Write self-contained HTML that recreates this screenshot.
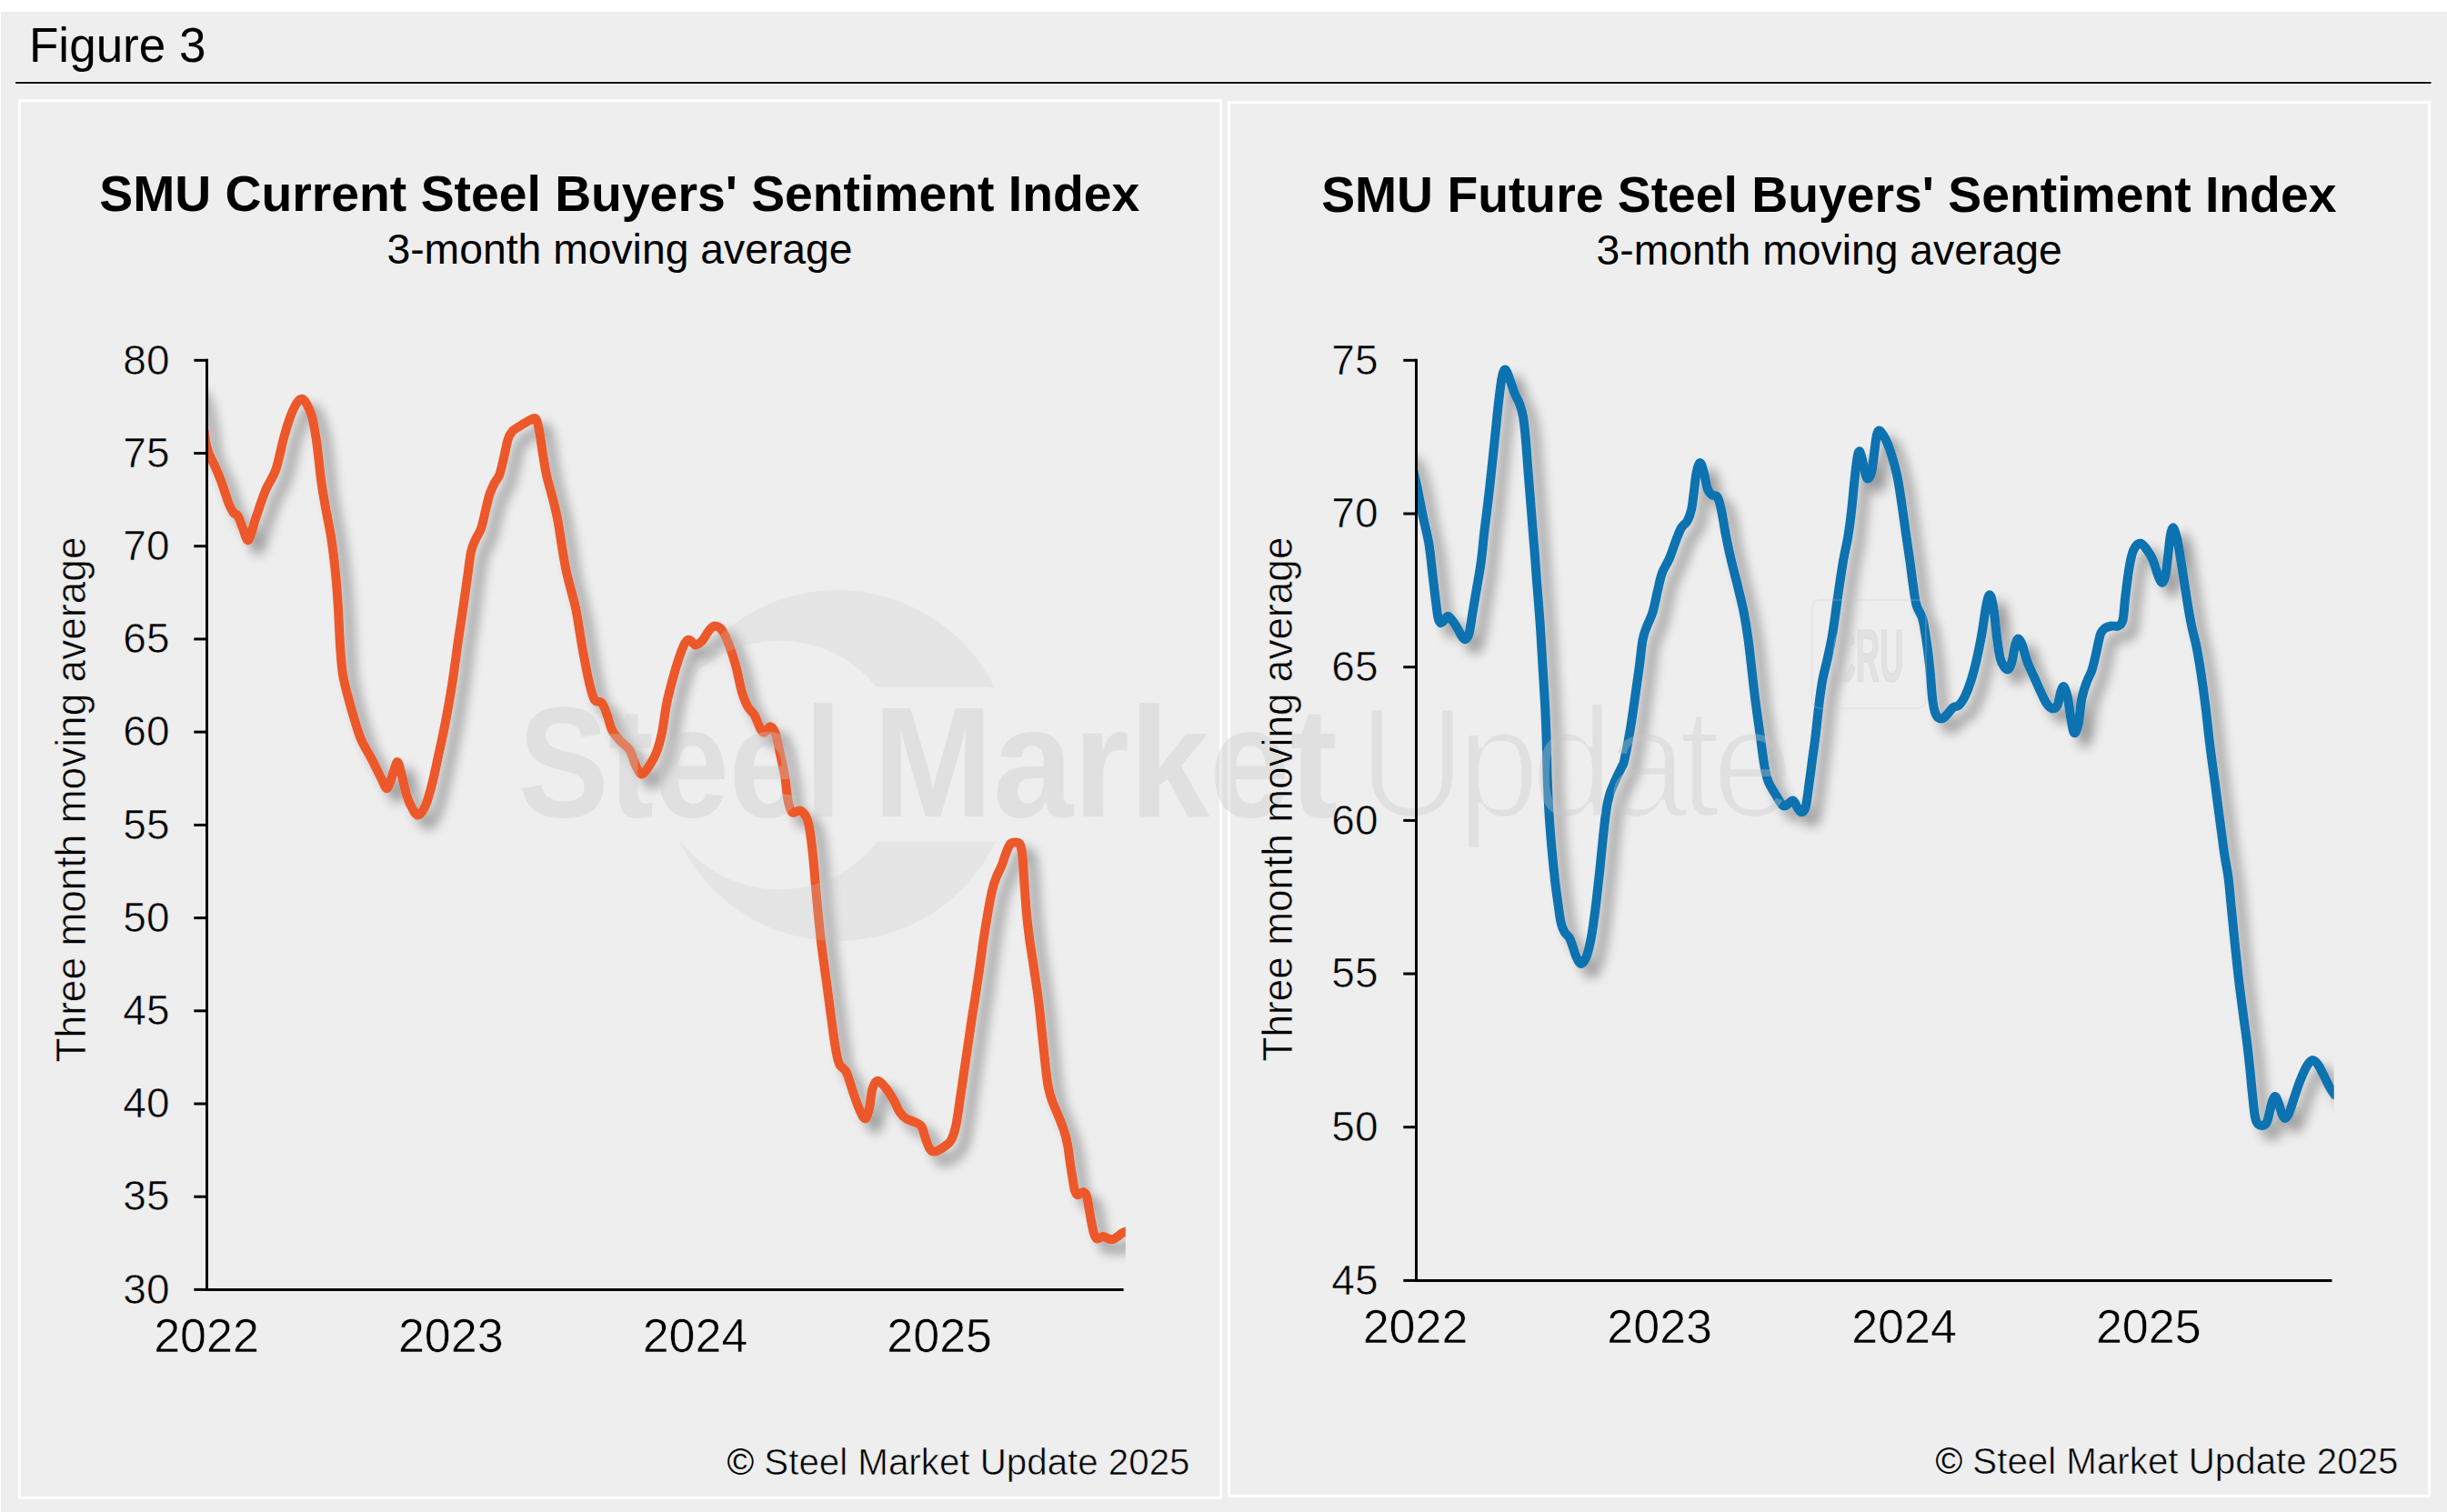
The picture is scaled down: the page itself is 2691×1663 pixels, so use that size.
<!DOCTYPE html>
<html lang="en"><head><meta charset="utf-8"><title>Figure 3 - SMU Steel Buyers' Sentiment Index</title>
<style>html,body{margin:0;padding:0;background:#fff}body{width:2691px;height:1663px;overflow:hidden}svg{display:block}
text{font-family:"Liberation Sans", sans-serif;fill:#000}
.b{font-weight:bold}.thin{stroke:#eeeeee;stroke-width:0.6px}
</style></head><body>
<svg width="2691" height="1663" viewBox="0 0 2691 1663">
<defs>
<filter id="sh" x="-5%" y="-5%" width="110%" height="110%"><feGaussianBlur in="SourceAlpha" stdDeviation="6.5"/><feOffset dx="11" dy="11" result="o"/><feComponentTransfer><feFuncA type="linear" slope="0.37"/></feComponentTransfer><feMerge><feMergeNode/><feMergeNode in="SourceGraphic"/></feMerge></filter>
<clipPath id="cl"><rect x="229.0" y="380" width="1008.8" height="1060"/></clipPath>
<clipPath id="cr"><rect x="1559.0" y="380" width="1007.7" height="1060"/></clipPath>
<filter id="er" x="-2%" y="-10%" width="104%" height="130%"><feMorphology operator="erode" radius="2"/></filter>
</defs>
<rect x="0" y="0" width="2691" height="1663" fill="#fff"/>
<rect x="1" y="13" width="2690" height="1650" fill="#eeeeee"/>
<text x="32" y="68" font-size="53">Figure 3</text>
<rect x="16" y="89" width="2658.5" height="4" rx="1" fill="#fff"/>
<rect x="17" y="90" width="2656.5" height="2" fill="#000"/>
<rect x="21.5" y="110.7" width="1321" height="1536.8" fill="none" stroke="#fff" stroke-width="3"/>
<rect x="1351.6" y="112.8" width="1320" height="1532.6" fill="none" stroke="#fff" stroke-width="3"/>
<g clip-path="url(#cl)"><path d="M204.0 432.0C205.3 430.7 209.3 421.7 212.0 424.0C214.7 426.3 217.4 434.8 220.0 446.0C222.6 457.2 224.8 480.7 227.4 491.5C230.0 502.3 232.9 504.6 235.6 511.0C238.3 517.4 240.9 522.9 243.5 530.0C246.1 537.1 249.2 547.9 251.4 553.5C253.6 559.1 254.8 561.1 256.5 563.5C258.2 565.9 259.9 564.6 261.7 567.6C263.5 570.6 265.3 577.1 267.2 581.5C269.1 585.9 271.0 595.9 273.3 594.0C275.6 592.1 278.0 579.6 281.1 570.4C284.2 561.2 288.5 547.8 292.2 538.9C295.9 530.0 299.9 526.6 303.3 516.7C306.7 506.8 309.5 490.4 312.6 479.6C315.7 468.8 318.7 458.7 321.9 451.9C325.1 445.1 328.6 438.1 332.0 438.7C335.4 439.3 339.6 448.2 342.2 455.6C344.8 463.0 345.9 471.0 347.8 483.3C349.7 495.6 351.5 516.3 353.3 529.6C355.1 542.9 357.0 552.5 358.9 563.0C360.8 573.5 362.7 581.2 364.4 592.6C366.1 604.0 367.9 618.9 369.1 631.5C370.4 644.1 371.0 654.7 371.9 668.5C372.8 682.3 373.4 701.9 374.3 714.1C375.2 726.3 375.6 733.3 377.0 741.9C378.4 750.5 380.4 757.6 382.6 765.9C384.8 774.2 387.5 783.9 390.0 791.9C392.5 799.9 394.3 807.0 397.4 814.1C400.5 821.2 404.8 827.3 408.5 834.4C412.2 841.5 416.7 851.3 419.6 856.7C422.5 862.1 423.9 868.1 426.1 866.9C428.3 865.7 430.8 854.1 432.6 849.3C434.5 844.5 435.6 837.5 437.2 838.1C438.8 838.7 440.2 846.8 441.9 853.0C443.6 859.2 445.4 869.0 447.4 875.2C449.4 881.4 451.8 886.5 453.9 890.0C456.0 893.5 457.7 897.1 460.0 896.5C462.3 895.9 465.3 892.0 467.8 886.3C470.3 880.6 472.7 871.8 475.2 862.2C477.7 852.6 480.1 840.3 482.6 828.9C485.1 817.5 487.5 806.7 490.0 793.7C492.5 780.7 495.1 765.9 497.4 751.1C499.7 736.3 501.9 718.7 503.9 704.8C505.9 690.9 507.7 679.8 509.4 667.8C511.1 655.8 512.9 643.1 514.3 633.0C515.7 622.9 516.6 613.5 518.0 607.0C519.4 600.5 520.8 598.4 522.6 594.1C524.5 589.8 527.2 586.4 529.1 581.1C531.0 575.9 532.2 568.8 533.7 562.6C535.2 556.4 536.6 549.4 538.3 544.1C540.0 538.9 542.0 534.8 543.9 531.1C545.8 527.4 547.7 526.5 549.4 521.9C551.1 517.3 552.5 509.8 554.1 503.3C555.7 496.8 557.2 487.8 558.7 483.0C560.2 478.2 561.0 477.1 563.3 474.6C565.6 472.1 569.5 470.1 572.6 468.1C575.7 466.1 579.1 463.8 581.9 462.6C584.7 461.4 587.4 458.5 589.3 460.7C591.2 462.9 592.1 469.4 593.3 475.6C594.5 481.8 595.4 489.8 596.7 497.8C598.0 505.8 599.4 515.4 601.3 523.7C603.1 532.0 605.8 539.8 607.8 547.8C609.8 555.8 611.6 562.9 613.3 571.9C615.0 580.9 616.5 592.2 618.0 601.5C619.5 610.8 620.9 619.4 622.6 627.4C624.3 635.4 626.2 642.2 628.1 649.6C630.0 657.0 631.6 661.1 633.7 671.9C635.8 682.6 638.3 700.9 640.7 714.1C643.1 727.3 645.9 741.9 648.1 751.1C650.3 760.4 651.4 765.9 653.7 769.6C656.0 773.3 659.7 770.5 662.0 773.3C664.3 776.1 665.8 781.3 667.6 786.3C669.5 791.2 670.8 798.4 673.1 803.0C675.4 807.6 678.2 810.4 681.5 814.1C684.8 817.8 689.7 820.6 692.6 825.2C695.5 829.8 696.9 837.5 699.1 841.9C701.3 846.3 703.3 851.2 705.6 851.5C707.9 851.8 710.4 847.5 713.0 843.7C715.6 839.9 718.8 835.1 721.3 828.9C723.8 822.7 725.8 816.0 727.8 806.7C729.8 797.4 731.1 783.8 733.3 773.3C735.4 762.8 738.2 752.7 740.7 743.7C743.2 734.8 745.9 725.8 748.1 719.6C750.3 713.4 752.0 709.3 753.7 706.7C755.4 704.1 756.4 703.5 758.3 703.9C760.1 704.3 762.5 709.2 764.8 709.4C767.1 709.5 769.7 707.4 772.2 704.8C774.7 702.2 777.3 696.4 779.6 693.7C781.9 691.0 783.6 688.5 786.1 688.5C788.6 688.5 791.6 689.8 794.4 693.7C797.2 697.7 800.3 705.7 802.8 712.2C805.3 718.7 807.1 724.6 809.3 732.6C811.4 740.6 813.6 753.0 815.7 760.4C817.9 767.8 819.9 772.7 822.2 777.0C824.5 781.3 827.3 782.3 829.6 786.3C831.9 790.3 834.2 797.9 836.1 801.1C838.0 804.3 838.9 806.0 840.7 805.7C842.6 805.4 845.2 799.1 847.2 799.3C849.2 799.5 850.9 801.5 852.8 806.7C854.6 811.9 856.6 823.0 858.3 830.7C860.0 838.4 861.6 844.7 863.0 853.0C864.4 861.3 865.3 873.9 866.7 880.7C868.1 887.5 869.1 891.9 871.3 893.7C873.5 895.5 877.1 890.5 879.8 891.5C882.4 892.5 885.4 895.8 887.2 899.8C889.1 903.8 889.7 907.7 890.9 915.6C892.1 923.5 893.4 934.7 894.6 947.0C895.8 959.3 896.9 974.8 898.3 989.6C899.7 1004.4 901.2 1020.5 903.0 1035.9C904.8 1051.3 907.0 1065.8 909.2 1082.2C911.4 1098.6 914.3 1121.4 916.1 1134.1C917.9 1146.8 918.6 1151.9 919.8 1158.1C921.0 1164.3 921.6 1167.5 923.5 1171.1C925.4 1174.6 928.6 1174.8 930.9 1179.4C933.2 1184.0 935.1 1192.2 937.4 1198.9C939.7 1205.6 942.5 1214.0 944.8 1219.3C947.1 1224.5 949.4 1230.4 951.3 1230.4C953.1 1230.4 954.5 1224.9 955.9 1219.3C957.3 1213.7 958.0 1202.1 959.6 1197.0C961.2 1191.9 962.7 1188.7 965.2 1188.7C967.7 1188.7 971.5 1193.5 974.4 1197.0C977.3 1200.5 980.3 1205.7 982.8 1210.0C985.3 1214.3 987.0 1219.6 989.3 1223.0C991.6 1226.4 993.9 1228.6 996.7 1230.4C999.5 1232.2 1003.1 1232.7 1005.9 1234.1C1008.7 1235.5 1011.3 1235.6 1013.3 1238.7C1015.3 1241.8 1016.5 1248.4 1018.0 1252.6C1019.5 1256.8 1020.9 1261.4 1022.6 1263.7C1024.3 1266.0 1025.6 1266.8 1028.1 1266.5C1030.6 1266.2 1034.5 1263.9 1037.4 1261.9C1040.3 1259.9 1043.4 1258.4 1045.7 1254.4C1048.0 1250.4 1049.6 1245.5 1051.3 1237.8C1053.0 1230.1 1054.1 1220.4 1055.9 1208.1C1057.8 1195.8 1060.2 1178.5 1062.4 1163.7C1064.6 1148.9 1067.3 1129.9 1068.9 1119.3C1070.5 1108.7 1070.6 1109.0 1072.0 1100.0C1073.4 1091.0 1075.6 1076.6 1077.2 1065.3C1078.8 1054.0 1080.2 1042.6 1081.8 1032.3C1083.3 1021.9 1085.0 1012.0 1086.5 1003.2C1088.0 994.4 1089.6 985.8 1091.1 979.4C1092.6 973.0 1093.9 969.4 1095.7 964.8C1097.5 960.2 1099.9 956.0 1101.7 951.6C1103.5 947.2 1104.8 942.3 1106.3 938.4C1107.8 934.5 1109.2 930.4 1110.9 928.4C1112.6 926.4 1114.4 926.5 1116.2 926.5C1118.0 926.5 1120.2 926.2 1121.5 928.4C1122.8 930.6 1123.4 933.4 1124.2 939.7C1125.0 946.0 1125.3 955.5 1126.1 966.1C1126.9 976.7 1127.8 992.2 1128.8 1003.2C1129.8 1014.2 1130.9 1023.0 1132.1 1032.3C1133.3 1041.5 1134.4 1047.4 1136.1 1058.7C1137.8 1070.0 1140.4 1087.4 1142.0 1100.0C1143.6 1112.6 1144.3 1121.0 1145.7 1134.1C1147.1 1147.2 1149.2 1168.2 1150.4 1178.5C1151.6 1188.8 1151.8 1190.6 1152.9 1195.9C1154.0 1201.2 1155.1 1205.3 1156.9 1210.4C1158.7 1215.5 1161.3 1220.8 1163.5 1226.3C1165.7 1231.8 1168.3 1238.0 1170.1 1243.5C1171.9 1249.0 1173.0 1253.7 1174.1 1259.4C1175.2 1265.1 1175.8 1272.0 1176.7 1277.9C1177.6 1283.9 1178.5 1289.8 1179.4 1295.1C1180.3 1300.4 1181.0 1306.4 1182.0 1309.6C1183.0 1312.8 1183.8 1314.1 1185.3 1314.3C1186.8 1314.5 1189.6 1310.7 1191.3 1311.0C1193.0 1311.3 1194.1 1312.9 1195.2 1316.2C1196.3 1319.5 1197.0 1325.9 1197.9 1330.8C1198.8 1335.7 1199.6 1341.0 1200.5 1345.4C1201.4 1349.8 1202.2 1354.4 1203.2 1357.2C1204.2 1360.0 1204.8 1362.0 1206.5 1362.5C1208.2 1363.0 1211.2 1360.0 1213.1 1359.9C1215.0 1359.8 1216.0 1361.4 1217.7 1361.9C1219.4 1362.5 1221.2 1363.4 1223.0 1363.2C1224.8 1363.0 1226.5 1361.7 1228.3 1360.6C1230.1 1359.5 1231.8 1357.7 1233.6 1356.6C1235.3 1355.5 1237.9 1354.6 1238.8 1354.2" fill="none" stroke="#ec5829" stroke-width="10" stroke-linejoin="round" stroke-linecap="round" filter="url(#sh)"/></g>
<g clip-path="url(#cr)"><path d="M1536.0 501.0C1537.3 500.3 1541.5 496.0 1544.0 497.0C1546.5 498.0 1548.8 501.4 1551.0 507.0C1553.2 512.6 1555.1 520.4 1557.4 530.5C1559.7 540.6 1562.5 556.6 1564.8 567.8C1567.1 578.9 1569.6 587.4 1571.3 597.4C1573.0 607.4 1573.8 617.5 1575.0 627.8C1576.2 638.1 1577.6 650.7 1578.7 659.3C1579.8 667.9 1580.6 675.3 1581.5 679.6C1582.4 683.9 1583.2 684.7 1584.3 685.2C1585.4 685.7 1586.6 683.6 1588.0 682.4C1589.4 681.2 1590.8 677.3 1592.6 677.8C1594.4 678.3 1597.1 682.4 1599.1 685.2C1601.1 688.0 1603.1 691.8 1604.6 694.4C1606.1 697.0 1607.1 699.5 1608.3 700.9C1609.5 702.3 1610.8 703.6 1612.0 702.8C1613.2 702.0 1614.5 701.1 1615.7 696.3C1616.9 691.5 1618.0 682.4 1619.4 674.1C1620.8 665.8 1622.5 655.6 1624.1 646.3C1625.6 637.0 1627.3 628.8 1628.7 618.5C1630.1 608.2 1630.9 597.8 1632.4 584.4C1634.0 571.0 1636.2 554.5 1638.0 538.1C1639.8 521.8 1641.8 502.3 1643.5 486.3C1645.2 470.3 1646.7 453.9 1648.1 441.9C1649.5 429.9 1650.6 420.0 1651.9 414.1C1653.2 408.2 1654.4 405.8 1655.9 406.7C1657.4 407.6 1659.5 415.3 1661.1 419.6C1662.7 423.9 1664.0 428.4 1665.7 432.6C1667.4 436.8 1669.8 440.3 1671.3 444.6C1672.8 448.9 1673.9 452.2 1675.0 458.5C1676.1 464.8 1676.9 472.4 1677.8 482.6C1678.7 492.8 1679.5 505.7 1680.6 519.6C1681.7 533.5 1683.1 550.5 1684.3 565.9C1685.5 581.3 1687.1 600.4 1688.0 612.2C1688.9 624.1 1688.9 625.1 1689.8 637.0C1690.7 648.9 1692.4 667.9 1693.5 683.3C1694.6 698.7 1695.4 714.2 1696.3 729.6C1697.2 745.0 1698.3 760.5 1699.1 775.9C1699.9 791.3 1700.5 808.7 1700.9 822.2C1701.3 835.7 1701.3 845.0 1701.7 857.0C1702.1 869.0 1702.7 881.8 1703.5 894.1C1704.3 906.5 1705.2 918.8 1706.3 931.1C1707.4 943.4 1708.8 957.3 1710.0 968.1C1711.2 978.9 1712.6 988.2 1713.7 995.9C1714.8 1003.6 1715.4 1009.6 1716.5 1014.4C1717.6 1019.2 1718.7 1021.8 1720.2 1024.6C1721.7 1027.4 1724.2 1028.5 1725.7 1031.1C1727.2 1033.7 1728.2 1037.0 1729.4 1040.4C1730.6 1043.8 1731.7 1048.3 1733.1 1051.5C1734.5 1054.7 1736.1 1059.2 1737.8 1059.8C1739.5 1060.4 1741.6 1058.4 1743.3 1055.2C1745.0 1052.0 1746.6 1046.3 1748.0 1040.4C1749.4 1034.5 1750.5 1028.0 1751.7 1020.0C1752.9 1012.0 1754.2 1002.4 1755.4 992.2C1756.6 982.0 1757.9 970.6 1759.1 958.9C1760.3 947.2 1761.6 933.3 1762.8 921.9C1764.0 910.5 1765.3 898.4 1766.5 890.4C1767.7 882.4 1768.7 878.8 1770.2 873.7C1771.7 868.6 1773.6 864.7 1775.7 859.8C1777.8 854.9 1781.4 847.9 1783.1 844.1C1784.8 840.3 1784.5 843.7 1786.1 837.0C1787.7 830.3 1790.6 815.4 1792.6 803.7C1794.6 792.0 1796.4 778.4 1798.1 766.7C1799.8 755.0 1801.4 743.8 1802.8 733.3C1804.2 722.8 1805.1 711.1 1806.5 703.7C1807.9 696.3 1809.2 694.0 1811.1 688.9C1812.9 683.8 1815.6 679.7 1817.6 673.0C1819.6 666.3 1821.4 656.0 1823.1 648.9C1824.8 641.8 1825.6 636.3 1827.8 630.4C1830.0 624.5 1833.5 619.9 1836.1 613.7C1838.7 607.5 1841.3 598.8 1843.5 593.3C1845.7 587.8 1847.1 583.8 1849.1 580.4C1851.1 577.0 1853.8 576.4 1855.6 573.0C1857.4 569.6 1859.0 565.6 1860.2 560.0C1861.4 554.4 1862.1 546.4 1863.0 539.6C1863.9 532.8 1864.6 524.4 1865.7 519.3C1866.8 514.2 1868.4 508.8 1869.8 509.1C1871.2 509.4 1872.8 516.3 1874.1 521.1C1875.4 525.9 1876.4 533.9 1877.8 537.8C1879.2 541.7 1880.6 542.8 1882.4 544.3C1884.2 545.8 1887.1 543.8 1888.9 547.0C1890.8 550.2 1892.0 556.6 1893.5 563.7C1895.0 570.8 1896.4 581.0 1898.1 589.6C1899.8 598.2 1901.5 606.3 1903.7 615.6C1905.9 624.9 1908.8 635.6 1911.1 645.2C1913.4 654.8 1915.8 663.8 1917.6 673.0C1919.4 682.2 1920.9 691.5 1922.2 700.7C1923.5 709.9 1924.2 716.9 1925.5 728.0C1926.8 739.1 1928.3 754.0 1930.0 767.4C1931.7 780.8 1933.9 795.8 1935.6 808.1C1937.3 820.5 1938.7 832.9 1940.2 841.5C1941.7 850.1 1942.8 854.8 1944.8 860.0C1946.8 865.2 1949.7 868.8 1952.2 873.0C1954.7 877.2 1957.6 882.9 1959.6 885.0C1961.6 887.1 1962.3 886.7 1964.3 885.9C1966.3 885.1 1969.7 880.1 1971.7 880.4C1973.7 880.7 1974.8 885.6 1976.3 887.8C1977.8 889.9 1979.4 893.3 1980.9 893.3C1982.5 893.3 1984.2 892.7 1985.6 887.8C1987.0 882.9 1988.1 872.4 1989.3 863.7C1990.5 855.1 1991.8 845.2 1993.0 835.9C1994.2 826.6 1995.5 818.3 1996.7 808.1C1997.9 797.9 1999.2 784.7 2000.4 774.8C2001.6 764.9 2002.6 757.2 2004.1 748.9C2005.6 740.6 2007.9 732.5 2009.6 724.8C2011.3 717.1 2012.9 710.3 2014.3 702.6C2015.7 694.9 2016.8 686.5 2018.0 678.5C2019.2 670.5 2019.8 664.6 2021.3 654.4C2022.8 644.2 2025.1 628.2 2026.9 617.4C2028.8 606.6 2030.9 598.9 2032.4 589.6C2033.9 580.4 2034.9 572.7 2036.1 561.9C2037.3 551.1 2038.7 534.7 2039.8 524.8C2040.9 514.9 2041.7 507.3 2042.6 502.6C2043.5 497.9 2044.2 495.3 2045.3 496.7C2046.4 498.1 2048.1 506.6 2049.2 511.0C2050.3 515.4 2051.0 520.4 2051.9 523.0C2052.8 525.6 2053.4 527.1 2054.5 526.4C2055.6 525.6 2057.2 523.8 2058.4 518.5C2059.6 513.2 2060.7 501.2 2061.6 494.5C2062.5 487.8 2063.0 482.0 2063.9 478.5C2064.8 475.0 2065.6 473.0 2067.2 473.6C2068.8 474.2 2071.2 478.5 2073.2 482.4C2075.2 486.3 2077.0 490.4 2079.2 497.2C2081.4 504.0 2084.4 514.3 2086.3 523.3C2088.2 532.3 2089.4 540.9 2090.9 551.1C2092.4 561.3 2094.1 573.6 2095.6 584.4C2097.1 595.2 2098.8 606.0 2100.2 615.9C2101.6 625.8 2102.7 635.4 2103.9 643.7C2105.1 652.0 2105.9 659.9 2107.6 665.9C2109.3 671.9 2112.4 674.3 2114.1 680.0C2115.8 685.7 2116.7 693.3 2117.8 700.0C2118.9 706.7 2119.8 713.3 2120.6 720.0C2121.4 726.7 2122.0 731.8 2122.8 740.4C2123.6 749.0 2124.5 764.2 2125.6 771.9C2126.7 779.6 2127.6 783.6 2129.3 786.7C2131.0 789.8 2133.5 790.7 2135.7 790.4C2137.8 790.1 2140.2 786.8 2142.2 784.8C2144.2 782.8 2145.8 779.8 2147.8 778.3C2149.8 776.8 2152.2 777.6 2154.3 775.6C2156.5 773.6 2158.5 770.6 2160.7 766.3C2162.8 762.0 2165.0 756.4 2167.2 749.6C2169.4 742.8 2171.7 734.2 2173.7 725.6C2175.7 717.0 2177.6 707.4 2179.3 697.8C2181.0 688.2 2182.5 675.4 2183.9 668.1C2185.3 660.9 2186.6 654.3 2188.0 654.3C2189.4 654.3 2190.9 660.5 2192.2 668.1C2193.5 675.7 2194.7 690.3 2195.9 699.6C2197.1 708.9 2198.2 718.0 2199.6 723.7C2201.0 729.4 2202.8 731.9 2204.3 733.9C2205.9 735.9 2207.5 736.8 2208.9 735.7C2210.3 734.6 2211.4 731.9 2212.6 727.4C2213.8 722.9 2215.1 713.1 2216.3 708.9C2217.5 704.7 2218.4 702.4 2219.6 702.4C2220.8 702.4 2222.1 704.7 2223.7 708.9C2225.3 713.1 2227.1 721.5 2229.3 727.4C2231.5 733.3 2234.2 738.5 2236.7 744.1C2239.2 749.7 2241.8 755.8 2244.1 760.7C2246.4 765.6 2248.4 770.6 2250.6 773.7C2252.8 776.8 2255.0 779.0 2257.0 779.3C2259.0 779.6 2261.0 778.7 2262.6 775.6C2264.2 772.5 2265.1 764.1 2266.3 760.7C2267.5 757.3 2268.4 754.3 2269.6 755.2C2270.8 756.1 2272.4 760.4 2273.7 766.3C2275.0 772.2 2276.2 783.8 2277.4 790.4C2278.6 797.0 2279.7 805.2 2281.1 806.1C2282.5 807.0 2284.3 802.2 2285.7 795.9C2287.1 789.6 2287.8 775.8 2289.4 768.1C2291.0 760.4 2293.1 754.8 2295.0 749.6C2296.9 744.4 2298.9 742.0 2300.6 736.7C2302.3 731.5 2303.7 724.6 2305.2 718.1C2306.7 711.6 2308.3 702.3 2309.8 697.8C2311.3 693.3 2312.4 692.8 2314.4 691.3C2316.4 689.8 2319.4 689.0 2321.9 688.5C2324.4 688.0 2327.2 689.6 2329.3 688.5C2331.4 687.4 2333.2 687.4 2334.5 682.0C2335.8 676.6 2336.1 665.8 2337.3 656.0C2338.5 646.2 2340.2 631.8 2341.7 623.3C2343.2 614.8 2344.3 609.1 2346.3 604.8C2348.3 600.5 2351.2 597.4 2353.7 597.4C2356.2 597.4 2358.8 601.7 2361.1 604.8C2363.4 607.9 2365.6 611.3 2367.6 615.9C2369.6 620.5 2371.4 628.4 2373.1 632.6C2374.8 636.8 2376.4 640.9 2377.8 640.9C2379.2 640.9 2380.4 637.7 2381.5 632.6C2382.6 627.5 2383.4 617.8 2384.3 610.4C2385.2 603.0 2386.0 593.0 2387.0 588.1C2388.0 583.2 2389.0 579.8 2390.2 580.7C2391.4 581.6 2392.9 586.9 2394.4 593.7C2395.9 600.5 2397.6 611.9 2399.1 621.5C2400.6 631.1 2402.0 640.6 2403.7 651.1C2405.4 661.6 2407.3 674.2 2409.3 684.4C2411.3 694.6 2413.8 702.9 2415.7 712.2C2417.5 721.5 2418.8 729.4 2420.4 740.0C2422.0 750.6 2423.7 762.7 2425.3 776.0C2427.0 789.3 2428.6 805.8 2430.3 819.7C2432.0 833.6 2433.8 846.2 2435.6 859.4C2437.3 872.6 2439.1 885.8 2440.8 899.0C2442.6 912.2 2444.5 927.7 2446.1 938.7C2447.7 949.7 2449.2 955.3 2450.5 965.0C2451.8 974.7 2452.4 984.0 2453.7 997.0C2455.0 1010.0 2456.8 1028.5 2458.3 1043.3C2459.9 1058.1 2461.4 1072.9 2463.0 1085.9C2464.6 1098.9 2466.3 1111.8 2467.6 1121.1C2468.8 1130.4 2469.4 1133.6 2470.5 1142.0C2471.6 1150.4 2472.8 1161.5 2473.9 1171.7C2475.0 1182.0 2476.0 1194.3 2477.0 1203.5C2478.0 1212.7 2478.8 1221.5 2479.7 1226.8C2480.6 1232.1 2481.1 1233.3 2482.3 1235.2C2483.5 1237.1 2485.4 1237.9 2487.1 1237.9C2488.8 1237.9 2491.0 1237.4 2492.4 1235.2C2493.8 1233.0 2494.6 1228.6 2495.6 1224.7C2496.6 1220.8 2497.6 1215.1 2498.7 1212.0C2499.8 1208.9 2501.0 1205.8 2502.2 1206.1C2503.4 1206.4 2504.9 1211.0 2506.1 1214.1C2507.3 1217.2 2508.2 1222.1 2509.3 1224.7C2510.5 1227.3 2511.7 1229.9 2513.0 1229.9C2514.3 1229.9 2515.6 1228.2 2517.2 1224.7C2518.8 1221.2 2520.4 1215.0 2522.5 1208.8C2524.6 1202.6 2527.4 1193.8 2529.9 1187.6C2532.4 1181.4 2535.2 1175.3 2537.4 1171.7C2539.6 1168.1 2541.3 1166.1 2543.2 1165.9C2545.1 1165.7 2547.0 1168.0 2549.0 1170.7C2551.0 1173.4 2553.2 1178.2 2555.3 1182.3C2557.4 1186.4 2559.6 1191.6 2561.7 1195.3C2563.8 1199.0 2566.6 1202.8 2567.6 1204.3" fill="none" stroke="#1072b0" stroke-width="10" stroke-linejoin="round" stroke-linecap="round" filter="url(#sh)"/></g>
<g id="wm">
<defs><clipPath id="band"><path d="M560 600H1200V755.7H560ZM560 925.7H1200V1100H560Z"/></clipPath></defs>
<g clip-path="url(#band)"><path fill="#c7c7c7" fill-opacity="0.24" fill-rule="evenodd" d="M728 842a193 193 0 1 0 386 0a193 193 0 1 0 -386 0ZM720 841.5a137 137 0 1 0 274 0a137 137 0 1 0 -274 0Z"/></g>
<text x="570" y="897.8" font-size="172" class="b" style="fill:#c7c7c7;fill-opacity:0.36" textLength="356" lengthAdjust="spacingAndGlyphs">Steel</text>
<text x="960" y="897.8" font-size="172" class="b" style="fill:#c7c7c7;fill-opacity:0.36" textLength="511" lengthAdjust="spacingAndGlyphs">Market</text>
<text transform="translate(1494 897.8) scale(0.95 1)" font-size="172" letter-spacing="-10" style="fill:#c7c7c7;fill-opacity:0.36" filter="url(#er)">Update</text>
<rect x="1992.5" y="660" width="125.5" height="119" rx="9" fill="none" stroke="#c7c7c7" stroke-opacity="0.22" stroke-width="2"/>
<text x="2014.5" y="748.5" font-size="82" class="b" style="fill:#c7c7c7;fill-opacity:0.3;stroke:#c7c7c7;stroke-width:1.5px;stroke-opacity:0.3" textLength="79" lengthAdjust="spacingAndGlyphs">CRU</text>
</g>
<g stroke="#000" stroke-width="3" fill="none">
<path d="M227.5 394.8V1418.4H1235.6"/>
<path d="M213.3 1418.4H227.5"/>
<path d="M213.3 1316.2H227.5"/>
<path d="M213.3 1214.0H227.5"/>
<path d="M213.3 1111.8H227.5"/>
<path d="M213.3 1009.6H227.5"/>
<path d="M213.3 907.4H227.5"/>
<path d="M213.3 805.1H227.5"/>
<path d="M213.3 702.9H227.5"/>
<path d="M213.3 600.7H227.5"/>
<path d="M213.3 498.5H227.5"/>
<path d="M213.3 396.3H227.5"/>
</g>
<text x="186.5" y="1433.6" font-size="46" text-anchor="end" class="thin">30</text>
<text x="186.5" y="1331.4" font-size="46" text-anchor="end" class="thin">35</text>
<text x="186.5" y="1229.2" font-size="46" text-anchor="end" class="thin">40</text>
<text x="186.5" y="1127.0" font-size="46" text-anchor="end" class="thin">45</text>
<text x="186.5" y="1024.8" font-size="46" text-anchor="end" class="thin">50</text>
<text x="186.5" y="922.6" font-size="46" text-anchor="end" class="thin">55</text>
<text x="186.5" y="820.3" font-size="46" text-anchor="end" class="thin">60</text>
<text x="186.5" y="718.1" font-size="46" text-anchor="end" class="thin">65</text>
<text x="186.5" y="615.9" font-size="46" text-anchor="end" class="thin">70</text>
<text x="186.5" y="513.7" font-size="46" text-anchor="end" class="thin">75</text>
<text x="186.5" y="411.5" font-size="46" text-anchor="end" class="thin">80</text>
<text x="227.0" y="1487.3" font-size="52" text-anchor="middle" class="thin">2022</text>
<text x="495.8" y="1487.3" font-size="52" text-anchor="middle" class="thin">2023</text>
<text x="764.5" y="1487.3" font-size="52" text-anchor="middle" class="thin">2024</text>
<text x="1033.2" y="1487.3" font-size="52" text-anchor="middle" class="thin">2025</text>
<g stroke="#000" stroke-width="3" fill="none">
<path d="M1557.5 394.8V1408.4H2564.5"/>
<path d="M1543.3 1408.4H1557.5"/>
<path d="M1543.3 1239.7H1557.5"/>
<path d="M1543.3 1071.0H1557.5"/>
<path d="M1543.3 902.4H1557.5"/>
<path d="M1543.3 733.7H1557.5"/>
<path d="M1543.3 565.0H1557.5"/>
<path d="M1543.3 396.3H1557.5"/>
</g>
<text x="1515.5" y="1423.6" font-size="46" text-anchor="end" class="thin">45</text>
<text x="1515.5" y="1254.9" font-size="46" text-anchor="end" class="thin">50</text>
<text x="1515.5" y="1086.2" font-size="46" text-anchor="end" class="thin">55</text>
<text x="1515.5" y="917.6" font-size="46" text-anchor="end" class="thin">60</text>
<text x="1515.5" y="748.9" font-size="46" text-anchor="end" class="thin">65</text>
<text x="1515.5" y="580.2" font-size="46" text-anchor="end" class="thin">70</text>
<text x="1515.5" y="411.5" font-size="46" text-anchor="end" class="thin">75</text>
<text x="1556.5" y="1477.2" font-size="52" text-anchor="middle" class="thin">2022</text>
<text x="1825.2" y="1477.2" font-size="52" text-anchor="middle" class="thin">2023</text>
<text x="2094.0" y="1477.2" font-size="52" text-anchor="middle" class="thin">2024</text>
<text x="2362.8" y="1477.2" font-size="52" text-anchor="middle" class="thin">2025</text>
<text transform="translate(94 1168.5) rotate(-90)" font-size="46" textLength="578" lengthAdjust="spacingAndGlyphs" class="thin">Three month moving average</text>
<text transform="translate(1421 1167.5) rotate(-90)" font-size="46" textLength="577" lengthAdjust="spacingAndGlyphs" class="thin">Three month moving average</text>
<text x="681.3" y="232.3" font-size="55.3" text-anchor="middle" class="b">SMU Current Steel Buyers' Sentiment Index</text>
<text x="681.5" y="290" font-size="46.3" text-anchor="middle">3-month moving average</text>
<text x="2011.3" y="233.3" font-size="55.3" text-anchor="middle" class="b">SMU Future Steel Buyers' Sentiment Index</text>
<text x="2011.6" y="291" font-size="46.3" text-anchor="middle">3-month moving average</text>
<text x="1308.5" y="1622.2" font-size="40.3" text-anchor="end" class="thin"><tspan style="stroke:none">©</tspan> Steel Market Update 2025</text>
<text x="2637.5" y="1620.5" font-size="40.3" text-anchor="end" class="thin"><tspan style="stroke:none">©</tspan> Steel Market Update 2025</text>
</svg></body></html>
